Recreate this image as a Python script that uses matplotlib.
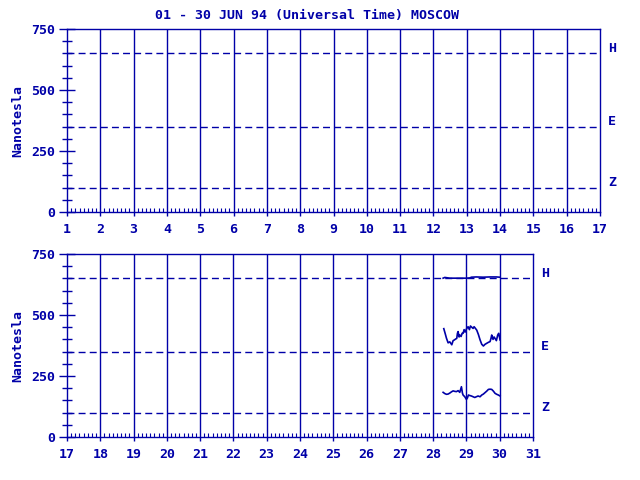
import matplotlib
matplotlib.use('Agg')
import matplotlib.pyplot as plt
from matplotlib.ticker import MultipleLocator

BLUE = '#0000A8'
FONT = 'DejaVu Sans Mono'
LW = 1.0

title = '01 - 30 JUN 94 (Universal Time) MOSCOW'
ylabel = 'Nanotesla'
y_ticks = [0, 250, 500, 750]
baselines = [650, 350, 100]
baseline_names = ['H', 'E', 'Z']

# days shown in each panel
top_range = (1, 17)
bottom_range = (17, 31)

# bottom panel traces
h_day = [28.30, 28.35, 28.50, 28.70, 28.90, 29.00, 29.10, 29.15, 29.30, 29.50, 29.70, 29.90, 30.00]
h_val = [651, 654, 651, 651, 651, 651, 652, 655, 656, 655, 656, 656, 655]

e_day = [28.32, 28.36, 28.40, 28.45, 28.50, 28.56, 28.60, 28.64, 28.68, 28.71, 28.73,
         28.75, 28.78, 28.80, 28.84, 28.87, 28.90, 28.93, 28.96, 29.01, 29.05, 29.09,
         29.12, 29.16, 29.20, 29.23, 29.26, 29.31, 29.36, 29.41, 29.46, 29.51, 29.56,
         29.61, 29.66, 29.71, 29.74, 29.76, 29.80, 29.83, 29.86, 29.90, 29.94, 29.97, 30.01]
e_val = [444, 425, 405, 386, 390, 378, 395, 398, 402, 404, 425,
         432, 410, 418, 412, 425, 425, 440, 430, 445, 452, 440,
         455, 450, 445, 452, 447, 438, 420, 398, 380, 373, 380,
         384, 388, 391, 405, 418, 400, 410, 404, 395, 418, 425, 398]

z_day = [28.30, 28.35, 28.40, 28.45, 28.50, 28.55, 28.60, 28.65, 28.70, 28.75, 28.80,
         28.85, 28.88, 28.90, 28.95, 29.00, 29.03, 29.06, 29.10, 29.15, 29.20, 29.25,
         29.30, 29.35, 29.41, 29.46, 29.51, 29.56, 29.61, 29.66, 29.71, 29.76, 29.81,
         29.86, 29.91, 29.96, 30.01]
z_val = [183, 178, 175, 176, 180, 185, 189, 187, 186, 190, 183,
         206, 180, 172, 165, 154, 160, 172, 170, 168, 165, 162,
         165, 168, 165, 172, 176, 182, 188, 195, 196, 195, 188,
         179, 175, 172, 168]

txt = dict(family=FONT, fontweight='bold', color=BLUE, fontsize=9.5)


def setup_panel(ax, days):
    lo, hi = days
    ax.set_xlim(lo, hi)
    ax.set_ylim(0, 750)
    for s in ax.spines.values():
        s.set_color(BLUE)
        s.set_linewidth(LW)
    ax.set_yticks(y_ticks)
    ax.yaxis.set_minor_locator(MultipleLocator(50))
    ax.set_xticks(range(lo, hi + 1))
    ax.xaxis.set_minor_locator(MultipleLocator(0.125))
    ax.tick_params(axis='y', which='major', direction='inout', length=11, width=LW,
                   color=BLUE, labelcolor=BLUE, pad=3)
    ax.tick_params(axis='y', which='minor', direction='inout', length=6.5, width=LW, color=BLUE)
    ax.tick_params(axis='x', which='major', direction='out', length=3, width=LW,
                   color=BLUE, labelcolor=BLUE, pad=5)
    ax.tick_params(axis='x', which='minor', direction='in', length=3, width=0.8, color=BLUE)
    for lab in ax.get_xticklabels() + ax.get_yticklabels():
        lab.set_fontfamily(FONT)
        lab.set_fontweight('bold')
        lab.set_fontsize(9.5)
    for d in range(lo + 1, hi):
        ax.axvline(d, color=BLUE, linewidth=LW)
    for b, name in zip(baselines, baseline_names):
        ax.axhline(b, color=BLUE, linewidth=LW, dashes=(5, 3))
        ax.annotate(name, xy=(1, b), xycoords=('axes fraction', 'data'),
                    xytext=(6, 3.5), textcoords='offset points', va='center', **txt)
    ax.set_ylabel(ylabel, labelpad=5, **txt)


fig = plt.figure(figsize=(6.4, 4.8), dpi=100)
ax1 = fig.add_axes([0.1047, 0.5583, 0.8328, 0.3813])
ax2 = fig.add_axes([0.1047, 0.0896, 0.7281, 0.3812])

setup_panel(ax1, top_range)
setup_panel(ax2, bottom_range)

ax2.plot(h_day, h_val, color=BLUE, linewidth=1.2)
ax2.plot(e_day, e_val, color=BLUE, linewidth=1.2)
ax2.plot(z_day, z_val, color=BLUE, linewidth=1.2)

fig.text(307 / 640, 1 - 16 / 480, title, ha='center', va='center', **txt)

fig.savefig('out.png', dpi=100)
